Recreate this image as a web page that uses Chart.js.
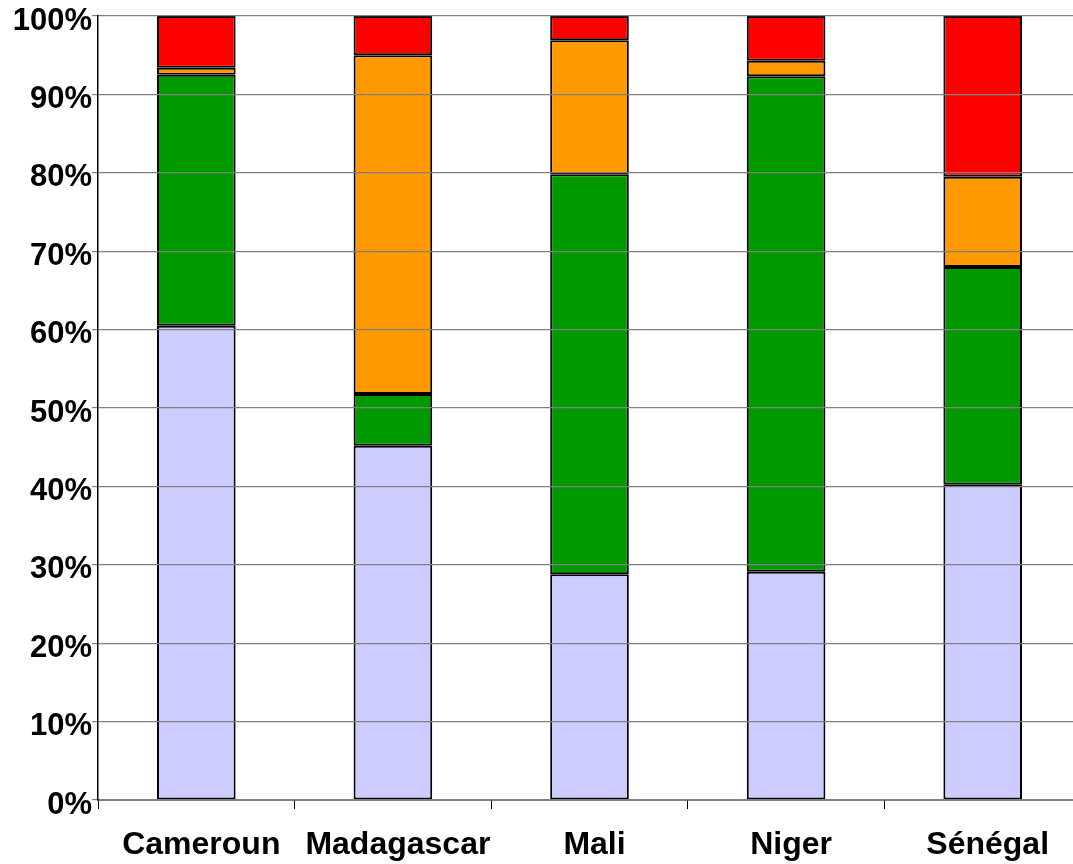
<!DOCTYPE html>
<html>
<head>
<meta charset="utf-8">
<script src="https://cdn.jsdelivr.net/npm/chart.js@4/dist/chart.umd.min.js"></script>
<style>
  html, body { margin: 0; padding: 0; background: #fff; overflow: hidden; }
  /* plot area runs slightly past the right edge of the window, as in the original */
  #wrap { width: 1081px; height: 864px; }
</style>
</head>
<body>
<div id="wrap"><canvas id="chart"></canvas></div>
<script>
const countries = ['Cameroun', 'Madagascar', 'Mali', 'Niger', 'Sénégal'];

// percentages per stack layer, bottom to top
const layer1 = [60.5, 45.2, 28.8, 29.1, 40.2]; // lavender
const layer2 = [32.0, 6.6, 51.0, 63.2, 27.8];  // green
const layer3 = [0.9, 43.2, 17.1, 2.0, 11.5];   // orange
const layer4 = [6.6, 5.0, 3.1, 5.7, 20.5];     // red

const yTicks = [0, 10, 20, 30, 40, 50, 60, 70, 80, 90, 100];

const family = 'Liberation Sans, Arial, sans-serif';

const ctx = document.getElementById('chart').getContext('2d');
new Chart(ctx, {
  type: 'bar',
  data: {
    labels: countries,
    datasets: [
      { label: 'layer1', data: layer1, backgroundColor: '#ccccff' },
      { label: 'layer2', data: layer2, backgroundColor: '#009900' },
      { label: 'layer3', data: layer3, backgroundColor: '#ff9900' },
      { label: 'layer4', data: layer4, backgroundColor: '#ff0000' }
    ].map(d => Object.assign(d, {
      borderColor: '#000',
      borderWidth: 2,
      borderSkipped: false,
      categoryPercentage: 1,
      barPercentage: 0.40
    }))
  },
  options: {
    responsive: true,
    maintainAspectRatio: false,
    animation: false,
    layout: { padding: { top: 16, right: 0, left: 0, bottom: 0 } },
    plugins: {
      legend: { display: false },
      tooltip: { enabled: false }
    },
    scales: {
      x: {
        stacked: true,
        afterFit: axis => { axis.height = 64; axis.paddingLeft = 0; axis.paddingRight = 0; },
        grid: {
          drawOnChartArea: false,
          drawTicks: true,
          tickLength: 9,
          color: '#000',
          offset: true
        },
        border: { color: '#000', width: 1.5 },
        ticks: {
          font: { family: family, size: 32, weight: 'bold' },
          color: '#000',
          padding: 17,
          labelOffset: 5,
          maxRotation: 0,
          autoSkip: false
        }
      },
      y: {
        stacked: true,
        min: 0,
        max: 100,
        afterBuildTicks: axis => { axis.ticks = yTicks.map(v => ({ value: v })); },
        afterFit: axis => { axis.width = 98; axis.paddingTop = 0; axis.paddingBottom = 0; },
        grid: {
          color: '#808080',
          lineWidth: 1.2,
          z: 1,
          drawTicks: true,
          tickLength: 6
        },
        // border must be drawn after the grid layer, otherwise its position is not computed yet
        border: { color: '#000', width: 1.5, z: 2 },
        ticks: {
          font: { family: family, size: 31, weight: 'bold' },
          color: '#000',
          padding: 0,
          labelOffset: 5,
          callback: v => v + '%'
        }
      }
    }
  }
});
</script>
</body>
</html>
